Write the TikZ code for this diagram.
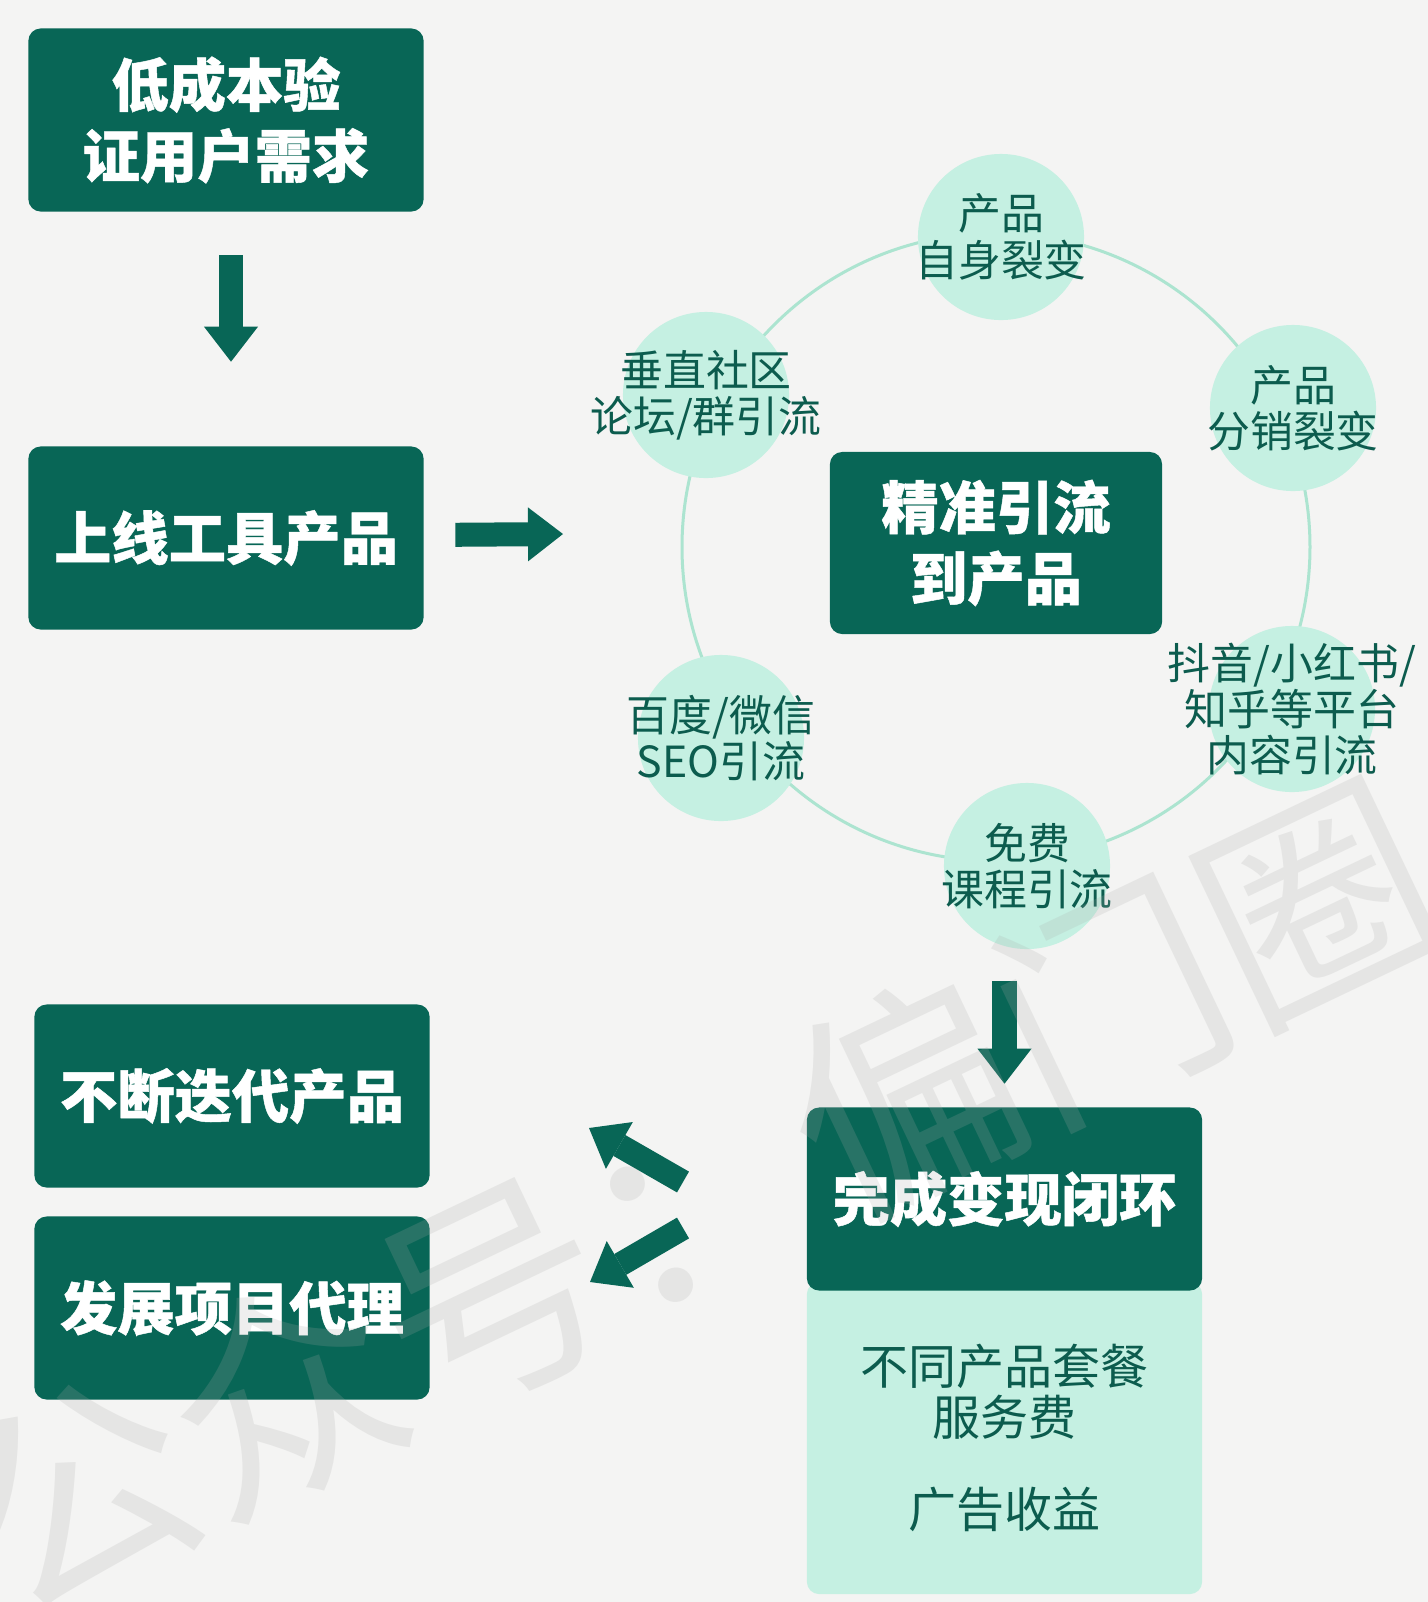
\documentclass[tikz,border=0pt]{standalone}
\usepackage{fontspec}
\newfontfamily\cjk{Noto Sans CJK SC}
\newfontfamily\cjkheavy[FakeBold=0.8]{Noto Sans CJK SC}
\usepackage{tikz}
\usetikzlibrary{positioning,arrows.meta,calc}

\definecolor{darkgreen}{RGB}{8,102,86}
\definecolor{mint}{RGB}{197,240,226}
\definecolor{ringgreen}{RGB}{172,228,208}
\definecolor{textgreen}{RGB}{12,92,78}
\definecolor{paper}{RGB}{244,244,243}
\definecolor{wmgray}{RGB}{170,170,170}

\begin{document}
\begin{tikzpicture}[x=0.01cm, y=-0.01cm,
    darkbox/.style={fill=darkgreen, rounded corners=3.5pt, minimum width=3.95cm, minimum height=1.83cm, inner sep=0pt, text=white, align=center, font=\cjkheavy\bfseries\fontsize{16.3}{20.2}\selectfont},
    bubble/.style={circle, fill=mint, minimum size=1.66cm, inner sep=-0.9cm, text=textgreen, align=center, font=\cjk\fontsize{12.2}{13.2}\selectfont},
    bigarrow/.style={draw=darkgreen, line width=0.24cm, -{Triangle[length=0.35cm, width=0.54cm, line width=0pt]}}]
% Page
\useasboundingbox (0,0) rectangle (1428,1602);
\fill[paper] (0,0) rectangle (1428,1602);

% Left column
\node[darkbox] (validate) at (226,120) {低成本验\\证用户需求};
\node[darkbox] (launch) at (226,538) {上线工具产品};

% Traffic ring
\draw[ringgreen, line width=0.03cm] (996,547) circle [radius=314];
\node[darkbox, minimum width=3.32cm, minimum height=1.82cm] (traffic) at (996,543) {精准引流\\到产品};
\node[bubble] (self) at (1001,237) {产品\\自身裂变};
\node[bubble] (resell) at (1293,408) {产品\\分销裂变};
\node[bubble] (media) at (1292,709) {抖音/小红书/\\知乎等平台\\内容引流};
\node[bubble] (course) at (1027,866) {免费\\课程引流};
\node[bubble] (seo) at (721,738) {百度/微信\\SEO引流};
\node[bubble] (forum) at (706,395) {垂直社区\\论坛/群引流};

% Income
\node[fill=mint, rounded corners=3.5pt, minimum width=3.95cm, minimum height=3.12cm, inner sep=0pt, text=textgreen, align=center, font=\cjk\fontsize{13.66}{14.5}\selectfont] (income) at (1004.5,1438) {不同产品套餐\\服务费\\[11.7pt]广告收益};
\node[darkbox] (cash) at (1004.5,1199) {完成变现闭环};

% Next steps
\node[darkbox] (iterate) at (232,1096) {不断迭代产品};
\node[darkbox] (agent) at (232,1308) {发展项目代理};

% Arrows
\coordinate (entry) at (563,534);
\coordinate (back1) at (683,1182);
\coordinate (tip1) at (589,1128);
\coordinate (back2) at (683,1228);
\coordinate (tip2) at (590,1282);
\draw[bigarrow, shorten <=0.43cm, shorten >=0.84cm] ([xshift=0.05cm]validate.south) -- ([xshift=0.05cm]launch.north);
\draw[bigarrow, shorten <=0.31cm] ([yshift=0.03cm]launch.east) -- (entry);
\draw[bigarrow, shorten <=0.31cm, shorten >=0.23cm] (course.south -| cash.north) -- (cash.north);
\draw[bigarrow] (back1) -- (tip1);
\draw[bigarrow] (back2) -- (tip2);

% Watermark
\node[rotate=25.5, text=wmgray, opacity=0.2, font=\cjk\fontsize{65}{65}\selectfont] (mark) at (697,1196) {公众号：偏门圈};
\end{tikzpicture}
\end{document}
